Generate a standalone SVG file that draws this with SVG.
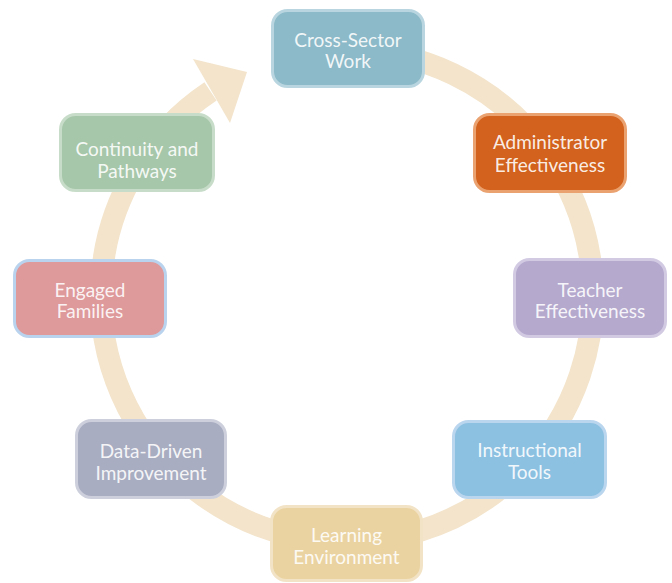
<svg xmlns="http://www.w3.org/2000/svg" width="672" height="583" viewBox="0 0 672 583">
<style>
.box{stroke-width:3}
.lbl{font-family:Lato,"Open Sans","Liberation Sans",sans-serif;font-weight:400;font-size:19px;fill:#ffffff;fill-opacity:0.9;text-anchor:middle}
.ring{fill:none;stroke:#F3E4CB;stroke-width:22}
</style>
<rect width="672" height="583" fill="#ffffff"/>
<g id="connectors">
<path class="ring" d="M347 50 A246 246 0 1 1 210.5 91.3"/>
<polygon points="193,59 247,72 230,123" fill="#F3E4CB"/>
</g>
<g id="cross-sector">
<rect class="box" x="272.5" y="10.5" width="151" height="76" rx="15" fill="#8DBAC8" stroke="#B9D6E0"/>
<text class="lbl" x="348" y="46.7">Cross-Sector</text>
<text class="lbl" x="348" y="68.3">Work</text>
</g>
<g id="administrator">
<rect class="box" x="474.5" y="114.5" width="151" height="77" rx="15" fill="#D2621D" stroke="#EBA271"/>
<text class="lbl" x="550" y="149">Administrator</text>
<text class="lbl" x="550" y="171.7">Effectiveness</text>
</g>
<g id="teacher">
<rect class="box" x="514.5" y="259.5" width="151" height="77" rx="15" fill="#B5A9CE" stroke="#D2CAE3"/>
<text class="lbl" x="590" y="296.7">Teacher</text>
<text class="lbl" x="590" y="318.3">Effectiveness</text>
</g>
<g id="instructional">
<rect class="box" x="453.5" y="421.5" width="152" height="76" rx="15" fill="#8DC1E2" stroke="#BAD5EE"/>
<text class="lbl" x="529.5" y="457.3">Instructional</text>
<text class="lbl" x="529.5" y="479">Tools</text>
</g>
<g id="learning">
<rect class="box" x="271.5" y="506.5" width="150" height="74" rx="15" fill="#EBD3A1" stroke="#F2E3C6"/>
<text class="lbl" x="346.5" y="542.3">Learning</text>
<text class="lbl" x="346.5" y="564">Environment</text>
</g>
<g id="data-driven">
<rect class="box" x="76.5" y="420.5" width="149" height="77" rx="15" fill="#A9ADC2" stroke="#CDD0DC"/>
<text class="lbl" x="151" y="458.3">Data-Driven</text>
<text class="lbl" x="151" y="480">Improvement</text>
</g>
<g id="engaged">
<rect class="box" x="14.5" y="260.5" width="151" height="76" rx="15" fill="#DE999B" stroke="#B9D3EE"/>
<text class="lbl" x="90" y="296.7">Engaged</text>
<text class="lbl" x="90" y="318.3">Families</text>
</g>
<g id="continuity">
<rect class="box" x="60.5" y="114.5" width="153" height="76" rx="15" fill="#A7C7AA" stroke="#C8DDC9"/>
<text class="lbl" x="137" y="155.7">Continuity and</text>
<text class="lbl" x="137" y="177.7">Pathways</text>
</g>
</svg>
